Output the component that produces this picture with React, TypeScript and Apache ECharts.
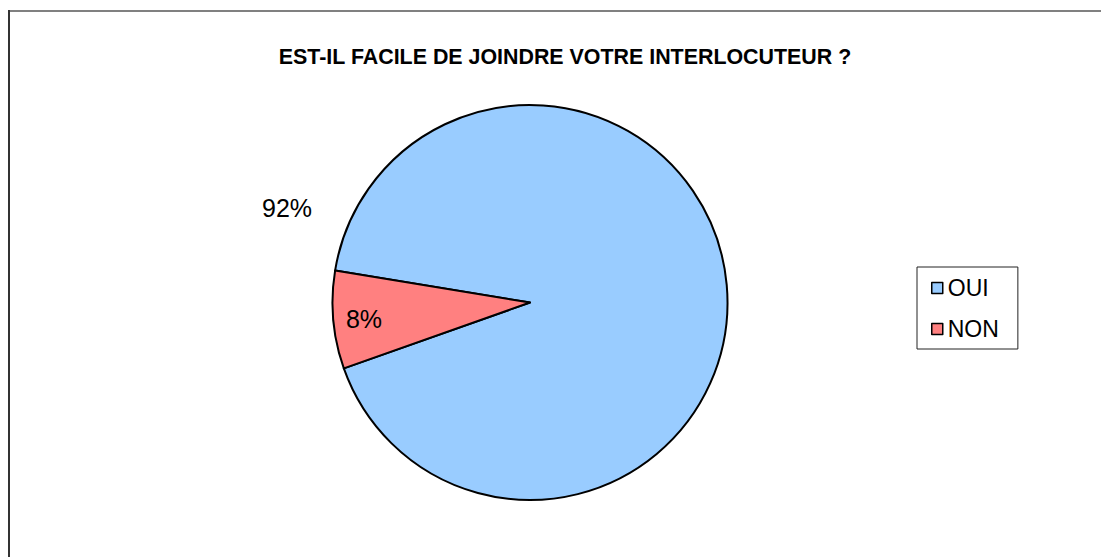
import React, { useEffect, useRef } from "react";
import * as echarts from "echarts";

// Survey answers and their shares (percent)
const categories = ["OUI", "NON"];
const shares = [92, 8];
const sliceColors = ["#99CCFF", "#FF8080"];
const titleText = "EST-IL FACILE DE JOINDRE VOTRE INTERLOCUTEUR ?";

// Where each slice's percentage label sits
const labelSpots: [number, number][] = [
  [287, 208],
  [364, 319],
];

const FONT = "Arial, 'Liberation Sans', sans-serif";

export default function App() {
  const ref = useRef<HTMLDivElement>(null);

  useEffect(() => {
    if (!ref.current) return;
    const chart = echarts.init(ref.current, null, { renderer: "svg" });

    chart.setOption({
      animation: false,
      backgroundColor: "#ffffff",
      title: {
        text: titleText,
        left: 560,
        top: 41,
        textAlign: "center",
        textStyle: {
          fontFamily: FONT,
          fontWeight: "bold",
          fontSize: 21.4,
          color: "#000",
        },
      },
      legend: {
        orient: "vertical",
        left: 917,
        top: 267,
        data: categories,
        icon: "rect",
        itemWidth: 11,
        itemHeight: 11,
        itemGap: 18,
        itemTextGap: 7,
        padding: [9.5, 19, 8.5, 14],
        borderColor: "#222",
        borderWidth: 1,
        selectedMode: false,
        itemStyle: { borderColor: "#000", borderWidth: 1.5 },
        textStyle: { fontFamily: FONT, fontSize: 23, color: "#000" },
      },
      graphic: [
        {
          type: "line",
          shape: { x1: 8, y1: 11, x2: 1101, y2: 11 },
          style: { stroke: "#808080", lineWidth: 2 },
        },
        {
          type: "line",
          shape: { x1: 9, y1: 10, x2: 9, y2: 557 },
          style: { stroke: "#333", lineWidth: 2 },
        },
      ],
      series: [
        {
          type: "pie",
          center: [530, 302.5],
          radius: 197.5,
          startAngle: 170.7,
          clockwise: true,
          itemStyle: { borderColor: "#000", borderWidth: 2 },
          emphasis: { disabled: true },
          labelLine: { show: false },
          label: {
            show: true,
            position: "inside",
            formatter: "{c}%",
            fontFamily: FONT,
            fontSize: 25,
            color: "#000",
          },
          labelLayout: (params: any) => {
            const spot = labelSpots[params.dataIndex];
            return {
              x: spot[0],
              y: spot[1],
              align: "center",
              verticalAlign: "middle",
            };
          },
          data: categories.map((name, i) => ({
            name,
            value: shares[i],
            itemStyle: { color: sliceColors[i] },
          })),
        },
      ],
    });

    return () => chart.dispose();
  }, []);

  return (
    <div
      ref={ref}
      style={{ position: "fixed", left: 0, top: 0, width: 1101, height: 557 }}
    />
  );
}
